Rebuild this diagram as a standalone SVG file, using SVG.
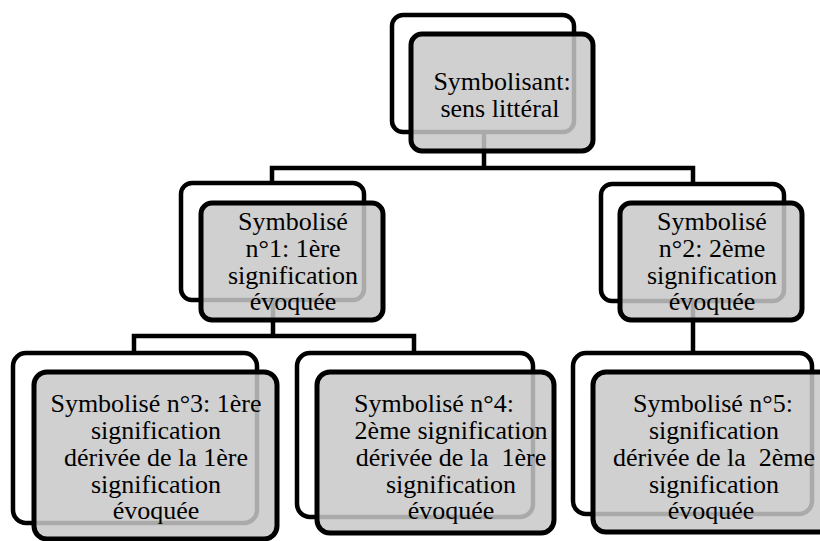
<svg xmlns="http://www.w3.org/2000/svg" width="820" height="541" viewBox="0 0 820 541">
<style>
.back{fill:#ffffff;stroke:#000;stroke-width:4.5}
.front{fill:#c8c8c8;fill-opacity:0.85;stroke:#000;stroke-width:5}
.conn{fill:none;stroke:#000;stroke-width:4.5;stroke-linejoin:miter}
text{font-family:"Liberation Serif","Times New Roman",serif;font-size:26px;fill:#000;text-anchor:middle;white-space:pre}
</style>
<rect width="820" height="541" fill="#fff"/>
<g id="connectors">
<path class="conn" d="M484,132 V168 M272,183 V168 H693 V185"/>
<path class="conn" d="M273,300 V336 M134,353 V336 H414 V353"/>
<path class="conn" d="M693,301 V353"/>
</g>
<g id="node-root">
<rect class="back" x="392" y="15" width="182" height="117" rx="11"/>
<rect class="front" x="411" y="34" width="182" height="117" rx="11"/>
<text x="502" y="90">Symbolisant:</text>
<text x="500" y="117">sens littéral</text>
</g>
<g id="node-1">
<rect class="back" x="181" y="183" width="183" height="117" rx="11"/>
<rect class="front" x="201" y="203" width="182" height="117" rx="11"/>
<text x="293" y="230">Symbolisé</text>
<text x="293" y="257">n°1: 1ère</text>
<text x="293" y="284">signification</text>
<text x="293" y="310">évoquée</text>
</g>
<g id="node-2">
<rect class="back" x="601" y="184" width="183" height="117" rx="11"/>
<rect class="front" x="620" y="203" width="182" height="117" rx="11"/>
<text x="712" y="230">Symbolisé</text>
<text x="712" y="257">n°2: 2ème</text>
<text x="712" y="284">signification</text>
<text x="712" y="310">évoquée</text>
</g>
<g id="node-3">
<rect class="back" x="13" y="353" width="244" height="170" rx="13"/>
<rect class="front" x="34" y="372" width="243" height="167" rx="13"/>
<text x="156" y="412">Symbolisé n°3: 1ère</text>
<text x="156" y="439">signification</text>
<text x="156" y="466">dérivée de la 1ère</text>
<text x="156" y="493">signification</text>
<text x="156" y="519">évoquée</text>
</g>
<g id="node-4">
<rect class="back" x="297" y="353" width="236" height="164" rx="13"/>
<rect class="front" x="317" y="372" width="237" height="161" rx="13"/>
<text x="434" y="412">Symbolisé n°4:</text>
<text x="451" y="439">2ème signification</text>
<text x="451" y="466" xml:space="preserve">dérivée de la  1ère</text>
<text x="451" y="493">signification</text>
<text x="451" y="519">évoquée</text>
</g>
<g id="node-5">
<rect class="back" x="573" y="353" width="239" height="161" rx="13"/>
<rect class="front" x="593" y="372" width="242" height="160" rx="13"/>
<text x="713" y="412">Symbolisé n°5:</text>
<text x="714" y="439">signification</text>
<text x="714" y="466" xml:space="preserve">dérivée de la  2ème</text>
<text x="714" y="493">signification</text>
<text x="711" y="519">évoquée</text>
</g>
</svg>
